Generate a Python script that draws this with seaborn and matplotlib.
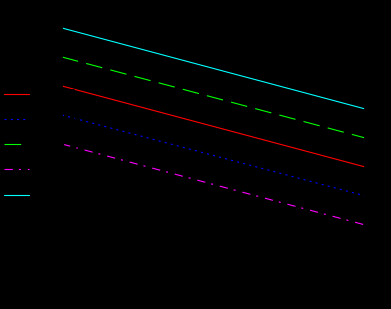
import matplotlib
matplotlib.use("Agg")
import matplotlib.pyplot as plt
import seaborn as sns
import pandas as pd

sns.set_theme(style="white")
plt.rcParams['font.family'] = ['DejaVu Sans']
plt.rcParams['lines.scale_dashes'] = False

x_values = [0, 10]
labels = ["Line 1", "Line 2", "Line 3", "Line 4", "Line 5"]
start_values = [2.0, 1.0, 3.0, 0.0, 4.0]
end_values = [-0.79, -1.79, 0.21, -2.79, 1.21]
colors = ["#ff0000", "#0000ff", "#00ff00", "#ff00ff", "#00ffff"]
styles = ["-", (0, (1.5, 3.0)), (0, (12.0, 6.0)), (0, (6.0, 4.3, 1.5, 5.0)), "-"]

fig = plt.figure(figsize=(3.91, 3.09), dpi=100, facecolor="black")
W, H = 391, 309
ax = fig.add_axes([62 / W, 1 - 240 / H, (365 - 62) / W, 220 / H])
ax.set_facecolor("black")

for lab, s, e, c, ls in zip(labels, start_values, end_values, colors, styles):
    df = pd.DataFrame({"x": x_values, "y": [s, e]})
    sns.lineplot(data=df, x="x", y="y", ax=ax, color=c, linestyle=ls,
                 linewidth=0.8, legend=False)

ax.set_xlim(0, 10)
ax.set_ylim(4 - 212 / 29, 4 + 8 / 29)
for sp in ax.spines.values():
    sp.set_color("black")
ax.tick_params(colors="black", labelcolor="black")
ax.set_xlabel("x", color="black")
ax.set_ylabel("y", color="black")

handles = ax.get_lines()
leg = fig.legend(handles, labels, loc="upper left",
                 bbox_to_anchor=(4 / W, 1 - 88 / H), frameon=False,
                 handlelength=1.8, labelspacing=0.80, fontsize=10,
                 borderaxespad=0, borderpad=0, handletextpad=0.5)
for t in leg.get_texts():
    t.set_color("black")
fig.savefig("out.png", dpi=100, facecolor="black")
